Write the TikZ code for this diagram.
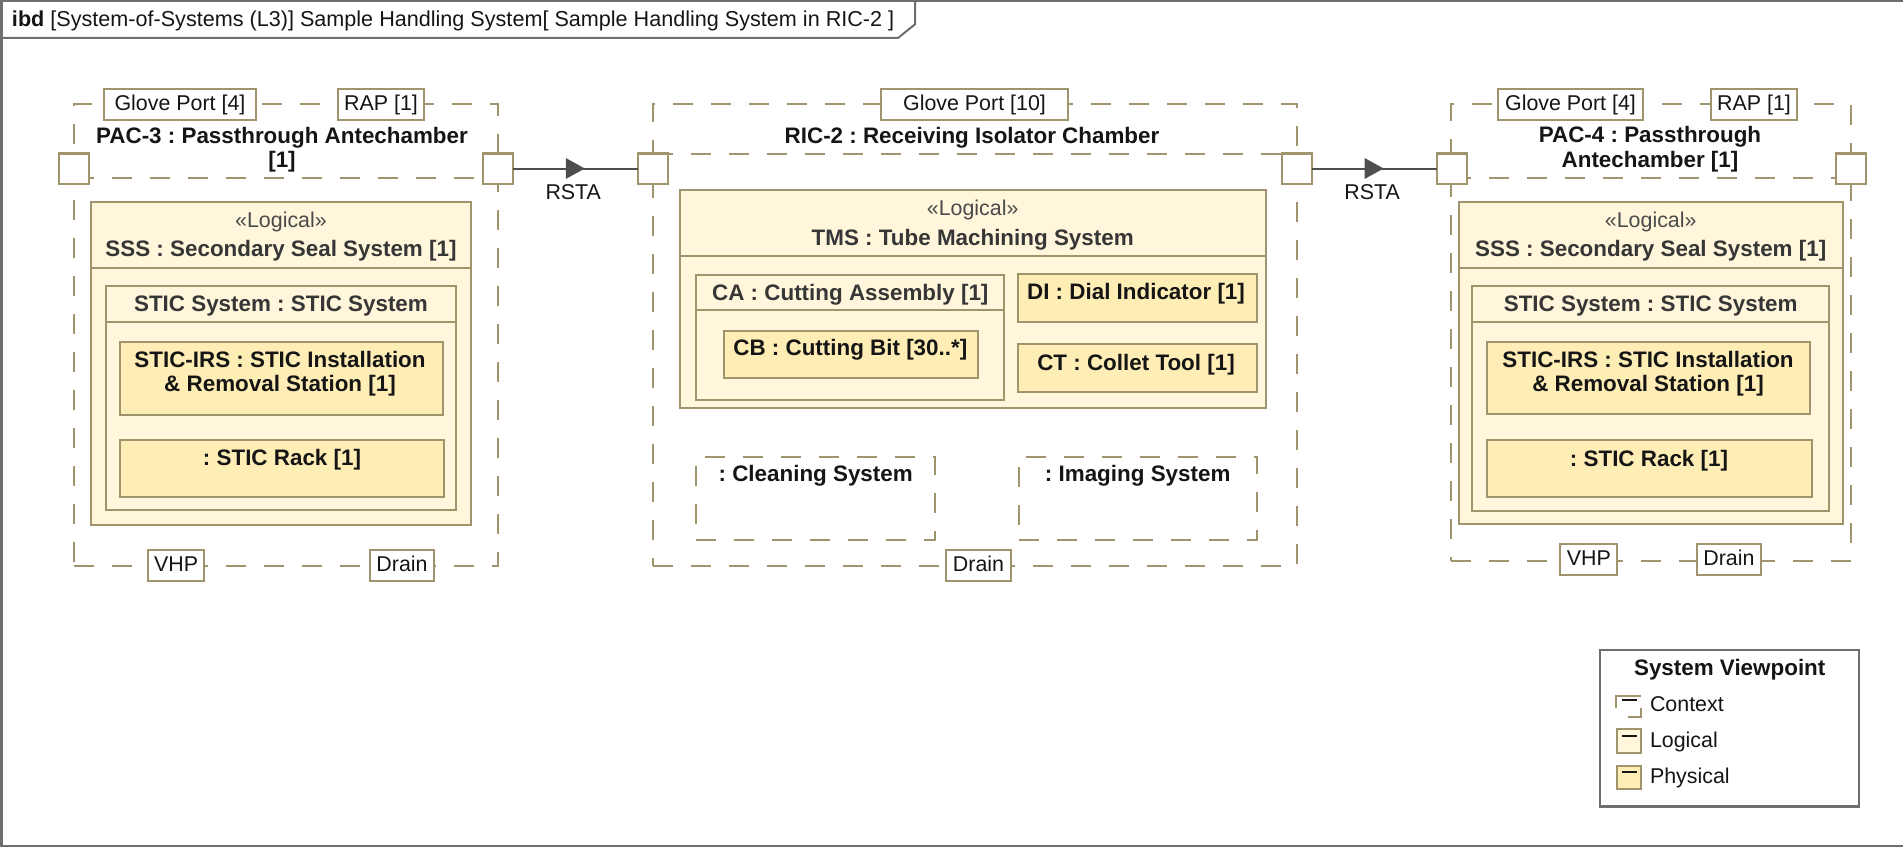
\documentclass[tikz,border=0pt]{standalone}
\usepackage{fontspec}
\setmainfont{Liberation Sans}
\usetikzlibrary{decorations.markings}
\frenchspacing

\definecolor{khaki}{HTML}{A0946C}
\definecolor{logfill}{HTML}{FFF6DB}
\definecolor{physfill}{HTML}{FFEDB6}
\definecolor{framegray}{HTML}{6E6E6E}
\definecolor{conngray}{HTML}{4E4E4E}
\definecolor{hdrtext}{HTML}{363636}
\definecolor{stereo}{HTML}{4A4A4A}
\definecolor{inktext}{HTML}{151515}

\newcommand\txtn{\fontsize{21.4}{24.5}\selectfont}
\newcommand\txtb{\fontsize{22.4}{24.5}\selectfont\bfseries}
% two centred lines, baseline on the first one
\newcommand\twoln[2]{\begin{tabular}[t]{@{}c@{}}#1\\{}#2\end{tabular}}
% rectangle node from its top-left and bottom-right corners
\newcommand\partbox[6]{\node[#1, anchor=north west, minimum width={(#5)-(#3)}, minimum height={(#6)-(#4)}] (#2) at (#3,#4) {};}

\tikzset{
  every node/.style={inner sep=0pt, outer sep=0pt},
  ctxbox/.style={rectangle, draw=khaki, line width=2pt, dash pattern=on 20pt off 18pt},
  ctxline/.style={draw=khaki, line width=2pt, dash pattern=on 20pt off 18pt},
  logbox/.style={rectangle, draw=khaki, fill=logfill, line width=2pt},
  physbox/.style={rectangle, draw=khaki, fill=physfill, line width=2pt},
  hdrline/.style={draw=khaki, line width=2pt},
  port/.style={rectangle, draw=khaki, fill=white, line width=2pt, minimum size=30pt},
  tagbox/.style={rectangle, draw=khaki, fill=white, line width=2pt, font=\txtn, text=inktext,
                 text height=15.6pt, text depth=4.5pt, minimum height=31pt},
  ttl/.style={anchor=base, font=\txtb, text=inktext},
  hdr/.style={anchor=base, font=\txtb, text=hdrtext},
  stereotype/.style={anchor=base, font=\txtn, text=stereo},
  conn/.style={draw=conngray, line width=2pt, postaction={decorate},
    decoration={markings, mark=at position 0.5 with {\fill[conngray] (-9.5pt,-10.5pt) -- (9.5pt,0pt) -- (-9.5pt,10.5pt) -- cycle;}}},
  connlbl/.style={anchor=base, font=\txtn, text=inktext, yshift=-30.5pt, xshift=-2pt},
  legtext/.style={anchor=base west, font=\txtn, text=inktext},
}

\begin{document}
\begin{tikzpicture}[x=1pt, y=-1pt]
\useasboundingbox (0,0) rectangle (1903,848);

% diagram frame and name tab
\draw[framegray, line width=2.5pt] (1903,1.25) -- (1.25,1.25) -- (1.25,846) -- (1903,846);
\draw[framegray, line width=2pt] (1.25,38) -- (898,38) -- (915,24.3) -- (915,1.25);
\node[anchor=base west, font=\fontsize{21.6}{24}\selectfont, text=inktext] (diagname) at (12,26.7)
  {\textbf{ibd} [System-of-Systems (L3)] Sample Handling System[ Sample Handling System in RIC-2 ]};

% ---------------- PAC-3 ----------------
\partbox{ctxbox}{pac3}{74}{104}{498}{566}
\draw[ctxline] (74,178.3) -- (498,178.3);
\node[ttl] (pac3t) at (282,143.3) {\twoln{PAC-3 : Passthrough Antechamber}{[1]}};

\partbox{logbox}{sss3}{91}{202}{470.5}{525}
\draw[hdrline] (91,268.3) -- (470.5,268.3);
\node[stereotype] (sss3s) at (281,227) {«Logical»};
\node[hdr] (sss3t) at (281,256.7) {SSS : Secondary Seal System [1]};

\partbox{logbox}{stic3}{106}{286}{456}{510}
\draw[hdrline] (106,322.3) -- (456,322.3);
\node[hdr] (stic3t) at (281,311.7) {STIC System : STIC System};

\partbox{physbox}{irs3}{119.5}{342}{442.5}{414.5}
\node[ttl] (irs3t) at (280,367.3) {\twoln{STIC-IRS : STIC Installation}{\& Removal Station [1]}};

\partbox{physbox}{rack3}{119.5}{440.3}{444.3}{496.7}
\node[ttl] (rack3t) at (282,465.5) {: STIC Rack [1]};

\node[tagbox, minimum width=152pt] (gp3) at (180,104.8) {Glove Port [4]};
\node[tagbox, minimum width=86.7pt] (rap3) at (381,104.8) {RAP [1]};
\node[tagbox, minimum width=56.4pt] (vhp3) at (176.2,565.5) {VHP};
\node[tagbox, minimum width=64.7pt] (drn3) at (402,565.5) {Drain};

\node[port] (p3l) at (74,168.5) {};
\node[port] (p3r) at (498,168.5) {};

% ---------------- RIC-2 ----------------
\partbox{ctxbox}{ric2}{652.5}{104}{1296.7}{565.7}
\draw[ctxline] (652.5,154) -- (1296.7,154);
\node[ttl] (ric2t) at (972,143.3) {RIC-2 : Receiving Isolator Chamber};

\partbox{logbox}{tms}{680}{189.5}{1265.5}{408.3}
\draw[hdrline] (680,256) -- (1265.5,256);
\node[stereotype] (tmss) at (972.7,215) {«Logical»};
\node[hdr] (tmst) at (972.7,245) {TMS : Tube Machining System};

\partbox{logbox}{ca}{696.4}{275}{1004.3}{400}
\draw[hdrline] (696.4,310) -- (1004.3,310);
\node[hdr] (cat) at (850.3,300) {CA : Cutting Assembly [1]};

\partbox{physbox}{cb}{723.7}{330.7}{978.3}{378.3}
\node[ttl] (cbt) at (850.3,355.3) {CB : Cutting Bit [30..*]};

\partbox{physbox}{di}{1017.7}{274}{1257.3}{322.3}
\node[ttl] (dit) at (1136,299.3) {DI : Dial Indicator [1]};

\partbox{physbox}{ct}{1017.7}{344}{1257.3}{392.3}
\node[ttl] (ctt) at (1136,370) {CT : Collet Tool [1]};

\partbox{ctxbox}{clean}{696.4}{456.7}{935}{540}
\node[ttl] (cleant) at (815.7,481) {: Cleaning System};

\partbox{ctxbox}{imag}{1018.6}{456.7}{1256.7}{540}
\node[ttl] (imagt) at (1137.7,481) {: Imaging System};

\node[tagbox, minimum width=187.6pt] (gp2) at (974.5,104.8) {Glove Port [10]};
\node[tagbox, minimum width=64.6pt] (drn2) at (978.5,565.5) {Drain};

\node[port] (r2l) at (652.5,168.5) {};
\node[port] (r2r) at (1296.7,168.5) {};

% ---------------- PAC-4 ----------------
\partbox{ctxbox}{pac4}{1451}{104}{1851}{560.7}
\draw[ctxline] (1451,178.3) -- (1851,178.3);
\node[ttl] (pac4t) at (1650,142.7) {\twoln{PAC-4 : Passthrough}{Antechamber [1]}};

\partbox{logbox}{sss4}{1458.5}{202.3}{1843}{524.3}
\draw[hdrline] (1458.5,268.3) -- (1843,268.3);
\node[stereotype] (sss4s) at (1650.7,227) {«Logical»};
\node[hdr] (sss4t) at (1650.7,256.7) {SSS : Secondary Seal System [1]};

\partbox{logbox}{stic4}{1472.3}{286}{1829.2}{510.7}
\draw[hdrline] (1472.3,322.3) -- (1829.2,322.3);
\node[hdr] (stic4t) at (1650.7,311.7) {STIC System : STIC System};

\partbox{physbox}{irs4}{1486.5}{342.3}{1809.6}{414.3}
\node[ttl] (irs4t) at (1648,367.3) {\twoln{STIC-IRS : STIC Installation}{\& Removal Station [1]}};

\partbox{physbox}{rack4}{1486.5}{440}{1811.5}{496.7}
\node[ttl] (rack4t) at (1649,466) {: STIC Rack [1]};

\node[tagbox, minimum width=145pt] (gp4) at (1570.5,104.8) {Glove Port [4]};
\node[tagbox, minimum width=86.5pt] (rap4) at (1754,104.8) {RAP [1]};
\node[tagbox, minimum width=57pt] (vhp4) at (1588.9,559.5) {VHP};
\node[tagbox, minimum width=63.7pt] (drn4) at (1728.9,559.5) {Drain};

\node[port] (p4l) at (1451.5,168.5) {};
\node[port] (p4r) at (1850.5,168.5) {};

% ---------------- item flows ----------------
\draw[conn] (p3r) -- node[connlbl] (rsta1) {RSTA} (r2l);
\draw[conn] (r2r) -- node[connlbl] (rsta2) {RSTA} (p4l);

% ---------------- legend ----------------
\node[rectangle, draw=framegray, line width=2.5pt, fill=white, anchor=north west,
      minimum width=259pt, minimum height=156.7pt] (legend) at (1600,650) {};
\node[anchor=base, font=\txtb, text=inktext] (legt) at (1729.7,675) {System Viewpoint};

% context icon
\draw[khaki, line width=2pt] (1616,708.3) -- (1616,696) -- (1640.5,696);
\draw[khaki, line width=2pt] (1640.7,708) -- (1640.7,716.7) -- (1628.3,716.7);
\draw[inktext, line width=2pt] (1621.7,699.5) -- (1636.7,699.5);
\node[legtext] (legctx) at (1650,711.7) {Context};

% logical icon
\node[logbox, anchor=north west, minimum width=24pt, minimum height=23.5pt] (legloga) at (1617,729) {};
\draw[inktext, line width=2pt] (1621.5,735.5) -- (1636.5,735.5);
\node[legtext] (leglog) at (1650,747.3) {Logical};

% physical icon
\node[physbox, anchor=north west, minimum width=24pt, minimum height=23.5pt] (legphya) at (1617,765.5) {};
\draw[inktext, line width=2pt] (1621.5,771.8) -- (1636.5,771.8);
\node[legtext] (legphy) at (1650,783.3) {Physical};

\end{tikzpicture}
\end{document}
